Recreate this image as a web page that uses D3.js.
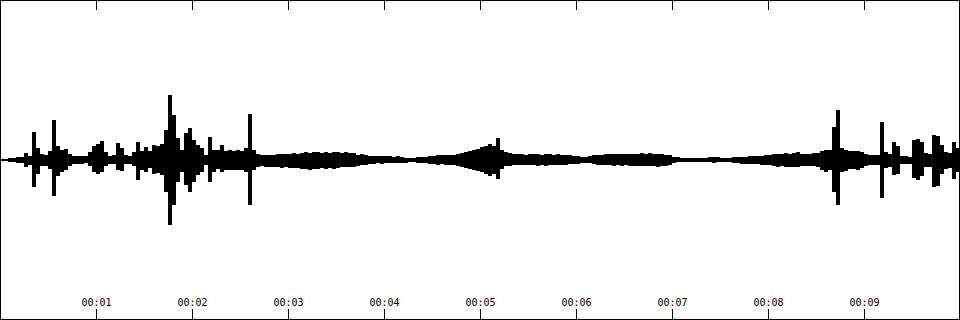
<!DOCTYPE html>
<html>
<head>
<meta charset="utf-8">
<script src="https://cdn.jsdelivr.net/npm/d3@7"></script>
<style>
  html, body { margin: 0; padding: 0; background: #fff; }
  svg { display: block; }
</style>
</head>
<body>
<div id="wave"></div>
<script>
// ─── DATA ───────────────────────────────────────────────────────────────────────
// clip length in seconds, waveform read in 240 buckets (1/24 s each)
const duration = 10;

// peak (max) sample per bucket, per-mille of full scale
const peakHi = [
  6,6,13,13,19,19,44,25,175,75,
  38,31,56,250,88,63,69,38,25,25,
  25,25,50,88,100,119,50,25,31,106,
  75,31,25,50,113,56,81,56,94,88,
  100,188,406,281,138,63,169,200,125,94,
  75,31,144,63,63,94,56,63,56,63,
  56,75,288,63,38,31,31,31,31,38,
  38,38,38,44,38,44,50,44,50,50,
  44,50,44,50,50,44,50,44,44,31,
  38,31,25,25,25,25,25,25,19,25,
  19,13,13,13,19,19,19,25,25,31,
  31,31,31,31,38,44,50,56,63,69,
  81,88,100,88,138,63,50,44,38,38,
  38,31,38,38,38,31,38,38,31,38,
  31,31,31,25,25,19,19,25,31,31,
  31,38,38,38,38,38,38,38,38,38,
  44,38,44,38,38,38,31,31,19,19,
  13,13,13,13,13,13,13,19,19,19,
  13,13,13,19,19,19,19,25,25,25,
  25,31,31,38,38,38,44,38,44,50,
  38,38,38,44,44,56,63,63,206,313,
  75,63,56,56,56,50,38,31,31,31,
  238,50,38,113,88,25,25,19,125,131,
  113,44,38,156,150,94,50,44,113,75
];

// trough (min) sample per bucket, per-mille of full scale
const peakLo = [
  -6,-6,-13,-13,-19,-19,-44,-31,-169,-88,
  -38,-38,-56,-225,-100,-75,-63,-38,-25,-25,
  -25,-19,-38,-75,-88,-75,-38,-25,-25,-63,
  -69,-25,-25,-38,-125,-63,-75,-50,-88,-81,
  -94,-200,-406,-281,-138,-75,-156,-200,-138,-94,
  -75,-31,-138,-75,-56,-75,-63,-63,-63,-63,
  -63,-75,-281,-63,-44,-38,-44,-44,-44,-44,
  -50,-44,-50,-50,-50,-56,-56,-63,-56,-56,
  -50,-56,-50,-56,-50,-44,-44,-44,-44,-38,
  -31,-31,-25,-25,-19,-25,-19,-19,-19,-19,
  -19,-19,-13,-13,-19,-19,-19,-25,-25,-31,
  -25,-31,-31,-31,-38,-44,-50,-56,-63,-69,
  -75,-88,-100,-88,-119,-56,-38,-38,-31,-31,
  -31,-31,-31,-31,-38,-31,-38,-31,-31,-31,
  -31,-31,-25,-25,-25,-19,-19,-19,-25,-31,
  -31,-31,-31,-38,-31,-38,-31,-38,-38,-38,
  -38,-38,-38,-38,-44,-38,-38,-31,-19,-13,
  -13,-13,-13,-13,-13,-13,-13,-13,-19,-13,
  -13,-13,-13,-19,-19,-25,-25,-25,-25,-25,
  -31,-31,-31,-38,-44,-38,-44,-44,-44,-44,
  -38,-38,-38,-38,-44,-63,-75,-63,-200,-281,
  -75,-69,-56,-56,-63,-50,-38,-31,-31,-31,
  -238,-50,-44,-94,-88,-25,-25,-25,-113,-125,
  -100,-44,-44,-169,-163,-88,-56,-50,-119,-75
];

// time marks
const tickSeconds = [1, 2, 3, 4, 5, 6, 7, 8, 9];
const tickLabels = ['00:01', '00:02', '00:03', '00:04', '00:05', '00:06', '00:07', '00:08', '00:09'];

// ─── CANVAS ─────────────────────────────────────────────────────────────────────
const width = 960;
const height = 320;

const svg = d3.select('#wave')
  .append('svg')
  .attr('width', width)
  .attr('height', height)
  .style('background', '#fff');

// ─── SCALES ─────────────────────────────────────────────────────────────────────
const bucket = duration / peakHi.length;

const xScale = d3.scaleLinear()
  .domain([0, duration])
  .range([0, width]);

const yScale = d3.scaleLinear()
  .domain([-1000, 1000])
  .range([height, 0]);

// ─── WAVEFORM ───────────────────────────────────────────────────────────────────
// one column per bucket, from trough up to peak
const buckets = peakHi.map((hi, i) => ({ t: i * bucket, hi: hi, lo: peakLo[i] }));

svg.append('g')
  .attr('shape-rendering', 'crispEdges')
  .selectAll('rect')
  .data(buckets)
  .enter().append('rect')
  .attr('x', d => xScale(d.t))
  .attr('width', d => xScale(d.t + bucket) - xScale(d.t))
  .attr('y', d => Math.round(yScale(d.hi)))
  .attr('height', d => Math.round(yScale(d.lo)) - Math.round(yScale(d.hi)))
  .attr('fill', '#000');

// ─── AXES ───────────────────────────────────────────────────────────────────────
// top edge: bare ticks
const topAxis = d3.axisBottom(xScale)
  .tickValues(tickSeconds)
  .tickSize(10)
  .tickFormat('');

svg.append('g')
  .attr('class', 'axis-top')
  .call(topAxis)
  .call(g => g.select('.domain').remove());

// bottom edge: ticks with labels
const bottomAxis = d3.axisTop(xScale)
  .tickValues(tickSeconds)
  .tickSize(10)
  .tickPadding(3)
  .tickFormat((d, i) => tickLabels[i]);

svg.append('g')
  .attr('class', 'axis-bottom')
  .attr('transform', `translate(0, ${height - 1})`)
  .call(bottomAxis)
  .call(g => g.select('.domain').remove())
  .call(g => g.selectAll('text')
    .attr('fill', '#000')
    .style('font-family', '"DejaVu Sans Mono", monospace')
    .style('font-size', '10px'));

svg.selectAll('.tick line').attr('stroke', '#000');

// ─── FRAME ──────────────────────────────────────────────────────────────────────
svg.append('rect')
  .attr('x', 0.5)
  .attr('y', 0.5)
  .attr('width', width - 1)
  .attr('height', height - 1)
  .attr('fill', 'none')
  .attr('stroke', '#000');
</script>
</body>
</html>
